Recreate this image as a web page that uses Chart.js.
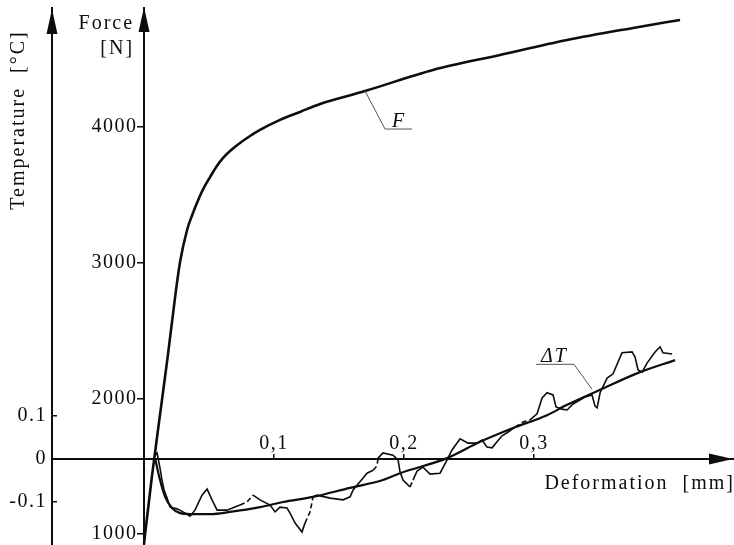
<!DOCTYPE html>
<html>
<head>
<meta charset="utf-8">
<script src="https://cdn.jsdelivr.net/npm/chart.js@4.4.0/dist/chart.umd.min.js"></script>
<style>
  html, body { margin: 0; padding: 0; background: #fff; }
  #wrap { width: 734px; height: 545px; position: relative; }
</style>
</head>
<body>
<div id="wrap"><canvas id="chart"></canvas></div>
<script>
// force curve F: deformation [mm] / force [N]
const forceDef = [0.0000, 0.0008, 0.0060, 0.0123, 0.0185, 0.0246, 0.0277, 0.0331, 0.0370, 0.0423, 0.0465, 0.0508, 0.0555, 0.0608, 0.0670, 0.0738, 0.0810, 0.0892, 0.1046, 0.1200, 0.1354, 0.1700, 0.2223, 0.2738, 0.3254, 0.3762, 0.4123];
const forceVal = [925, 1000, 1420, 1880, 2330, 2799, 3005, 3241, 3350, 3477, 3560, 3631, 3705, 3772, 3830, 3882, 3930, 3978, 4052, 4111, 4170, 4265, 4420, 4531, 4641, 4730, 4789];

// measured temperature change dT: deformation [mm] / temperature [°C]
const tempDef = [0.0085, 0.0100, 0.0123, 0.0138, 0.0154, 0.0177, 0.0200, 0.0254, 0.0300, 0.0354, 0.0392, 0.0446, 0.0485, 0.0523, 0.0562, 0.0638, 0.0738, 0.0792, 0.0838, 0.0892, 0.0969, 0.1008, 0.1046, 0.1100, 0.1123, 0.1162, 0.1215, 0.1238, 0.1277, 0.1300, 0.1331, 0.1431, 0.1531, 0.1585, 0.1608, 0.1638, 0.1685, 0.1715, 0.1762, 0.1792, 0.1800, 0.1838, 0.1915, 0.1954, 0.1969, 0.1992, 0.2046, 0.2069, 0.2100, 0.2146, 0.2200, 0.2277, 0.2331, 0.2369, 0.2431, 0.2492, 0.2562, 0.2600, 0.2638, 0.2677, 0.2715, 0.2754, 0.2792, 0.2854, 0.2915, 0.2969, 0.3023, 0.3062, 0.3100, 0.3146, 0.3169, 0.3215, 0.3254, 0.3300, 0.3392, 0.3446, 0.3469, 0.3485, 0.3508, 0.3562, 0.3608, 0.3662, 0.3677, 0.3754, 0.3777, 0.3800, 0.3831, 0.3869, 0.3931, 0.3969, 0.3992, 0.4062];
const tempVal = [0.009, 0.014, -0.021, -0.049, -0.072, -0.091, -0.112, -0.116, -0.123, -0.133, -0.119, -0.084, -0.070, -0.095, -0.119, -0.119, -0.107, -0.100, -0.084, -0.095, -0.107, -0.123, -0.112, -0.114, -0.126, -0.149, -0.170, -0.149, -0.123, -0.088, -0.084, -0.091, -0.095, -0.088, -0.072, -0.061, -0.044, -0.033, -0.026, -0.016, 0.002, 0.014, 0.009, -0.002, -0.030, -0.049, -0.065, -0.049, -0.028, -0.019, -0.035, -0.033, -0.002, 0.021, 0.047, 0.037, 0.037, 0.044, 0.028, 0.026, 0.040, 0.054, 0.061, 0.074, 0.086, 0.091, 0.105, 0.142, 0.154, 0.149, 0.121, 0.116, 0.114, 0.128, 0.144, 0.149, 0.123, 0.119, 0.154, 0.188, 0.198, 0.237, 0.247, 0.249, 0.237, 0.207, 0.202, 0.223, 0.249, 0.261, 0.247, 0.244];

// fitted dT trend
const fitDef = [0.0085, 0.0123, 0.0162, 0.0215, 0.0277, 0.0354, 0.0508, 0.0662, 0.0892, 0.1069, 0.1300, 0.1585, 0.1838, 0.1969, 0.2331, 0.2585, 0.2838, 0.3100, 0.3254, 0.3508, 0.3815, 0.4085];
const fitVal = [0.002, -0.049, -0.088, -0.114, -0.126, -0.128, -0.128, -0.123, -0.112, -0.100, -0.088, -0.067, -0.049, -0.033, 0.002, 0.040, 0.072, 0.102, 0.126, 0.161, 0.202, 0.230];

const defTicks = [0.1, 0.2, 0.3];
const forceTicks = [1000, 2000, 3000, 4000];
const tempTicks = [-0.1, 0, 0.1];

// stretches of the measured dT trace that are printed broken
const brokenFrom = [0.0738, 0.1238, 0.1762, 0.2046, 0.2854];
const brokenTo = [0.0838, 0.1300, 0.1800, 0.2069, 0.2969];

// where the curve labels are hooked on
const fLabelAt = [0.1700, 4265];
const tLabelAt = [0.3446, 0.1620];

const INK = '#0d0d0d';
const SERIF = "'Liberation Serif', 'DejaVu Serif', serif";

const toPoints = (xs, ys) => xs.map((x, i) => ({ x: x, y: ys[i] }));
const fixTicks = (values) => (scale) => { scale.ticks = values.map((v) => ({ value: v })); };
const isBroken = (x) => brokenFrom.some((from, i) => x >= from && x < brokenTo[i]);

// keep every axis from eating space around the plot
const noSpace = (width, height) => (scale) => {
    if (width !== null) scale.width = width;
    if (height !== null) scale.height = height;
    scale.paddingTop = 0;
    scale.paddingBottom = 0;
    scale.paddingLeft = 0;
    scale.paddingRight = 0;
};

const arrowUp = (ctx, x, y) => {
    ctx.beginPath();
    ctx.moveTo(x, y);
    ctx.lineTo(x - 5.5, y + 25);
    ctx.lineTo(x + 5.5, y + 25);
    ctx.closePath();
    ctx.fill();
};

const arrowRight = (ctx, x, y) => {
    ctx.beginPath();
    ctx.moveTo(x, y);
    ctx.lineTo(x - 24, y - 5.5);
    ctx.lineTo(x - 24, y + 5.5);
    ctx.closePath();
    ctx.fill();
};

const axisDecor = {
    id: 'axisDecor',
    beforeDraw(chart) {
        chart.ctx.letterSpacing = '1.5px';
    },
    afterDraw(chart) {
        const { ctx, chartArea, scales } = chart;
        const x0 = scales.x.getPixelForValue(0);
        const yT0 = scales.yT.getPixelForValue(0);

        ctx.save();
        ctx.fillStyle = INK;
        ctx.strokeStyle = INK;
        arrowUp(ctx, chartArea.left, chartArea.top + 1);
        arrowUp(ctx, x0, chartArea.top - 1);
        arrowRight(ctx, chartArea.right - 1, yT0);

        // axis titles
        ctx.font = `20px ${SERIF}`;
        ctx.letterSpacing = '2px';
        ctx.textBaseline = 'alphabetic';
        ctx.textAlign = 'right';
        ctx.fillText('Force', x0 - 10, 29);
        ctx.fillText('[N]', x0 - 10, 54);
        ctx.fillText('Deformation  [mm]', chartArea.right + 1, yT0 + 30);

        ctx.save();
        ctx.translate(24, 120);
        ctx.rotate(-Math.PI / 2);
        ctx.textAlign = 'center';
        ctx.fillText('Temperature  [°C]', 0, 0);
        ctx.restore();

        // curve labels with leader lines
        ctx.lineWidth = 1;
        ctx.strokeStyle = '#555';
        const fx = scales.x.getPixelForValue(fLabelAt[0]);
        const fy = scales.yF.getPixelForValue(fLabelAt[1]);
        ctx.beginPath();
        ctx.moveTo(fx, fy);
        ctx.lineTo(fx + 20, fy + 38);
        ctx.lineTo(fx + 47, fy + 38);
        ctx.stroke();
        ctx.font = `italic 20px ${SERIF}`;
        ctx.textAlign = 'left';
        ctx.fillText('F', fx + 27, fy + 36);

        const tx = scales.x.getPixelForValue(tLabelAt[0]);
        const ty = scales.yT.getPixelForValue(tLabelAt[1]);
        ctx.beginPath();
        ctx.moveTo(tx, ty);
        ctx.lineTo(tx - 18, ty - 25);
        ctx.lineTo(tx - 56, ty - 25);
        ctx.stroke();
        ctx.fillText('\u0394T', tx - 51, ty - 27);
        ctx.restore();
    }
};

function main() {
    const tickFont = { family: SERIF, size: 20 };

    new Chart(document.querySelector('#chart'), {
        type: 'line',
        data: {
            datasets: [
                {
                    label: 'F',
                    data: toPoints(forceDef, forceVal),
                    xAxisID: 'x',
                    yAxisID: 'yF',
                    borderColor: INK,
                    borderWidth: 2.6,
                    pointRadius: 0,
                    cubicInterpolationMode: 'monotone',
                },
                {
                    label: '\u0394T fit',
                    data: toPoints(fitDef, fitVal),
                    xAxisID: 'x',
                    yAxisID: 'yT',
                    borderColor: INK,
                    borderWidth: 2.2,
                    pointRadius: 0,
                    cubicInterpolationMode: 'monotone',
                },
                {
                    label: '\u0394T',
                    data: toPoints(tempDef, tempVal),
                    xAxisID: 'x',
                    yAxisID: 'yT',
                    borderColor: INK,
                    borderWidth: 1.6,
                    pointRadius: 0,
                    tension: 0,
                    segment: {
                        borderDash: (ctx) => (isBroken(ctx.p0.parsed.x) ? [5, 3] : undefined),
                    },
                },
            ]
        },
        options: {
            responsive: true,
            maintainAspectRatio: false,
            animation: false,
            layout: { padding: { top: 8, left: 0, right: 0, bottom: 0 } },
            plugins: { legend: { display: false }, tooltip: { enabled: false } },
            scales: {
                x: {
                    type: 'linear',
                    position: { yT: 0 },
                    min: -0.0708,
                    max: 0.4538,
                    afterFit: noSpace(null, 0),
                    afterBuildTicks: fixTicks(defTicks),
                    grid: { drawOnChartArea: false, tickLength: -6, color: INK, lineWidth: 1.5 },
                    border: { color: INK, width: 2 },
                    ticks: {
                        font: tickFont, color: INK, padding: -21, maxRotation: 0, autoSkip: false,
                        callback: (v) => v.toFixed(1).replace('.', ','),
                    },
                },
                yT: {
                    type: 'linear',
                    position: 'left',
                    min: -0.2,
                    max: 1.0488,
                    afterFit: noSpace(52, null),
                    afterBuildTicks: fixTicks(tempTicks),
                    grid: { drawOnChartArea: false, tickLength: -5, color: INK, lineWidth: 1.5 },
                    border: { color: INK, width: 2 },
                    ticks: {
                        font: tickFont, color: INK, padding: 10, autoSkip: false,
                        callback: (v) => (v === 0 ? '0' : v.toFixed(1)),
                    },
                },
                yF: {
                    type: 'linear',
                    position: { x: 0 },
                    min: 919,
                    max: 4877,
                    afterFit: noSpace(0, null),
                    afterBuildTicks: fixTicks(forceTicks),
                    grid: { drawOnChartArea: false, tickLength: 6, color: INK, lineWidth: 1.5 },
                    border: { color: INK, width: 2 },
                    ticks: {
                        font: tickFont, color: INK, padding: 0, autoSkip: false,
                        callback: (v) => `${v} `,
                    },
                },
            },
        },
        plugins: [axisDecor],
    });
}

main();
</script>
</body>
</html>
